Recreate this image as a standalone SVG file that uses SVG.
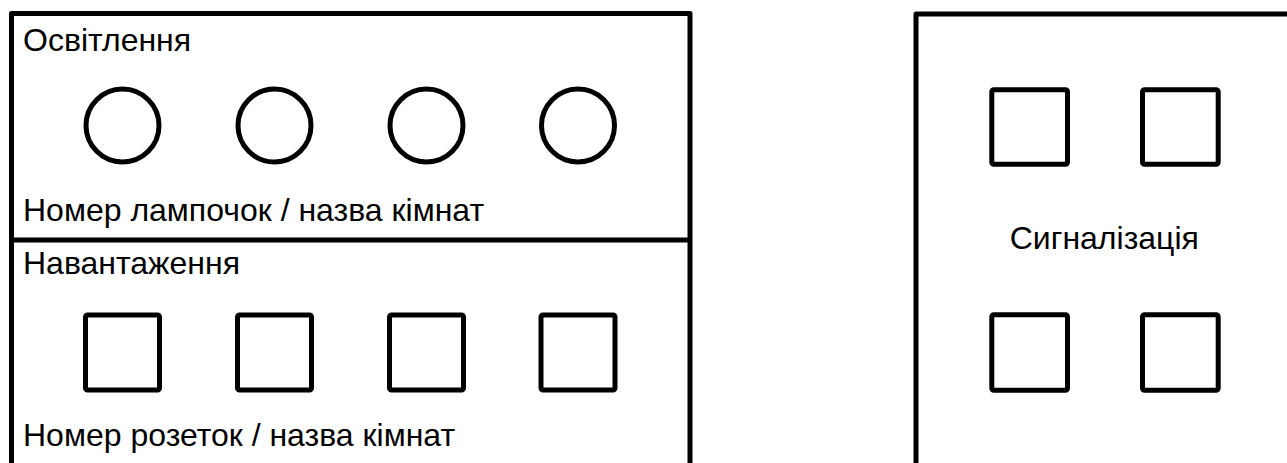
<svg xmlns="http://www.w3.org/2000/svg" width="1287" height="463" viewBox="0 0 1287 463">
<style>
.frame{fill:none;stroke:#000;stroke-width:5;stroke-linejoin:round}
.lamp{fill:none;stroke:#000;stroke-width:5}
.sock{fill:none;stroke:#000;stroke-width:5;stroke-linejoin:round}
.lbl{font-family:"Liberation Sans",Arial,sans-serif;font-size:32px;fill:#000}
</style>
<rect width="1287" height="463" fill="#fff"/>
<g id="panel-lighting">
<path class="frame" d="M11.5,465.5 V13.5 H690 V465.5"/>
<text class="lbl" x="23" y="51">Освітлення</text>
<circle class="lamp" cx="122.5" cy="125.5" r="36.5"/>
<circle class="lamp" cx="274.5" cy="125.5" r="36.5"/>
<circle class="lamp" cx="426.5" cy="125.5" r="36.5"/>
<circle class="lamp" cx="578" cy="125.5" r="36.5"/>
<text class="lbl" x="23" y="221">Номер лампочок / назва кімнат</text>
</g>
<g id="panel-load">
<path class="frame" d="M11.5,240 H690"/>
<text class="lbl" x="23" y="273.5">Навантаження</text>
<rect class="sock" x="85.5" y="315" width="74" height="75" rx="2"/>
<rect class="sock" x="237.5" y="315" width="74" height="75" rx="2"/>
<rect class="sock" x="389.5" y="315" width="74" height="75" rx="2"/>
<rect class="sock" x="541" y="315" width="74" height="75" rx="2"/>
<text class="lbl" x="23" y="446">Номер розеток / назва кімнат</text>
</g>
<g id="panel-alarm">
<path class="frame" d="M916,465.5 V14 H1295"/>
<rect class="sock" x="991.8" y="89.8" width="75.7" height="74.4" rx="2"/>
<rect class="sock" x="1142.5" y="89.8" width="75.7" height="74.4" rx="2"/>
<text class="lbl" x="1104.3" y="248.5" text-anchor="middle">Сигналізація</text>
<rect class="sock" x="991.8" y="314.8" width="75.7" height="75.4" rx="2"/>
<rect class="sock" x="1142.5" y="314.8" width="75.7" height="75.4" rx="2"/>
</g>
<g id="connectors"></g>
</svg>
